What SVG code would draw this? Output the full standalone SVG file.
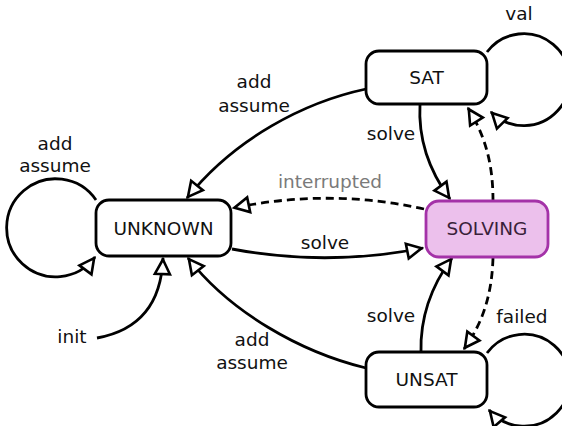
<svg xmlns="http://www.w3.org/2000/svg" width="562" height="426" viewBox="0 0 562 426">
  <style>
    .node rect { fill: #ffffff; stroke: #000000; stroke-width: 2.8; }
    .node text { font-family: "DejaVu Sans", sans-serif; font-size: 18.5px; text-anchor: middle; fill: #111111; }
    #solving rect { fill: #ecc0ec; stroke: #a432a8; }
    #solving text { fill: #3a1f3a; }
    .edge { fill: none; stroke: #000000; stroke-width: 2.8; marker-end: url(#open); }
    .dash { stroke-dasharray: 8 5; }
    .lbl { font-family: "DejaVu Sans", sans-serif; font-size: 18.5px; text-anchor: middle; fill: #111111; }
    .gray { fill: #7a7a7a; }
  </style>
  <defs>
    <!-- open triangular arrowhead shared by all transitions -->
    <marker id="open" markerUnits="userSpaceOnUse" viewBox="-20 -11 22 22" refX="0" refY="0" markerWidth="22" markerHeight="22" orient="auto">
      <path d="M -1.5 0 L -16 -7.5 L -16 7.5 Z" fill="#ffffff" stroke="#000000" stroke-width="2.6" stroke-linejoin="miter"/>
    </marker>
  </defs>

  <g id="connectors">
    <!-- UNKNOWN self loop -->
    <path class="edge" d="M 96 200 A 49 49 0 1 0 95 257"/>
    <!-- init -->
    <path class="edge" d="M 97 338 C 130 332, 161 312, 163 258"/>
    <!-- SAT to UNKNOWN -->
    <path class="edge" d="M 366 89 C 305 102, 235 138, 187 198"/>
    <!-- SOLVING to UNKNOWN (interrupted) -->
    <path class="edge dash" d="M 424 209 Q 330 188 233 208"/>
    <!-- UNKNOWN to SOLVING -->
    <path class="edge" d="M 232 249 Q 327 267 423 248"/>
    <!-- SAT to SOLVING -->
    <path class="edge" d="M 420 104 C 418 140, 430 172, 450 199"/>
    <!-- SOLVING to SAT -->
    <path class="edge dash" d="M 493 201 C 493 170, 488 140, 468 108"/>
    <!-- SAT self loop -->
    <path class="edge" d="M 487 52 A 46 46 0 1 1 491 112"/>
    <!-- UNSAT to SOLVING -->
    <path class="edge" d="M 421 352 C 420 315, 432 285, 452 258"/>
    <!-- SOLVING to UNSAT -->
    <path class="edge dash" d="M 493 258 C 492 290, 485 320, 464 349"/>
    <!-- UNSAT self loop -->
    <path class="edge" d="M 487 353 A 46 46 0 1 1 489 410"/>
    <!-- UNSAT to UNKNOWN -->
    <path class="edge" d="M 366 368 C 300 352, 230 312, 188 258"/>
  </g>

  <g id="labels">
    <text class="lbl" x="55" y="150">add</text>
    <text class="lbl" x="55" y="172">assume</text>
    <text class="lbl" x="72" y="343">init</text>
    <text class="lbl" x="254" y="88">add</text>
    <text class="lbl" x="254" y="112">assume</text>
    <text class="lbl gray" x="330" y="188">interrupted</text>
    <text class="lbl" x="325" y="249">solve</text>
    <text class="lbl" x="391" y="140">solve</text>
    <text class="lbl" x="519" y="20">val</text>
    <text class="lbl" x="391" y="322">solve</text>
    <text class="lbl" x="522" y="323">failed</text>
    <text class="lbl" x="252" y="346">add</text>
    <text class="lbl" x="252" y="369">assume</text>
  </g>

  <g id="unknown" class="node">
    <rect x="96" y="200" width="135" height="56" rx="13"/>
    <text x="163.5" y="235">UNKNOWN</text>
  </g>
  <g id="sat" class="node">
    <rect x="366" y="51" width="121" height="53" rx="13"/>
    <text x="426.5" y="84">SAT</text>
  </g>
  <g id="solving" class="node">
    <rect x="426" y="201" width="122" height="56" rx="13"/>
    <text x="487" y="235">SOLVING</text>
  </g>
  <g id="unsat" class="node">
    <rect x="366" y="352" width="121" height="55" rx="13"/>
    <text x="426.5" y="386">UNSAT</text>
  </g>
</svg>
